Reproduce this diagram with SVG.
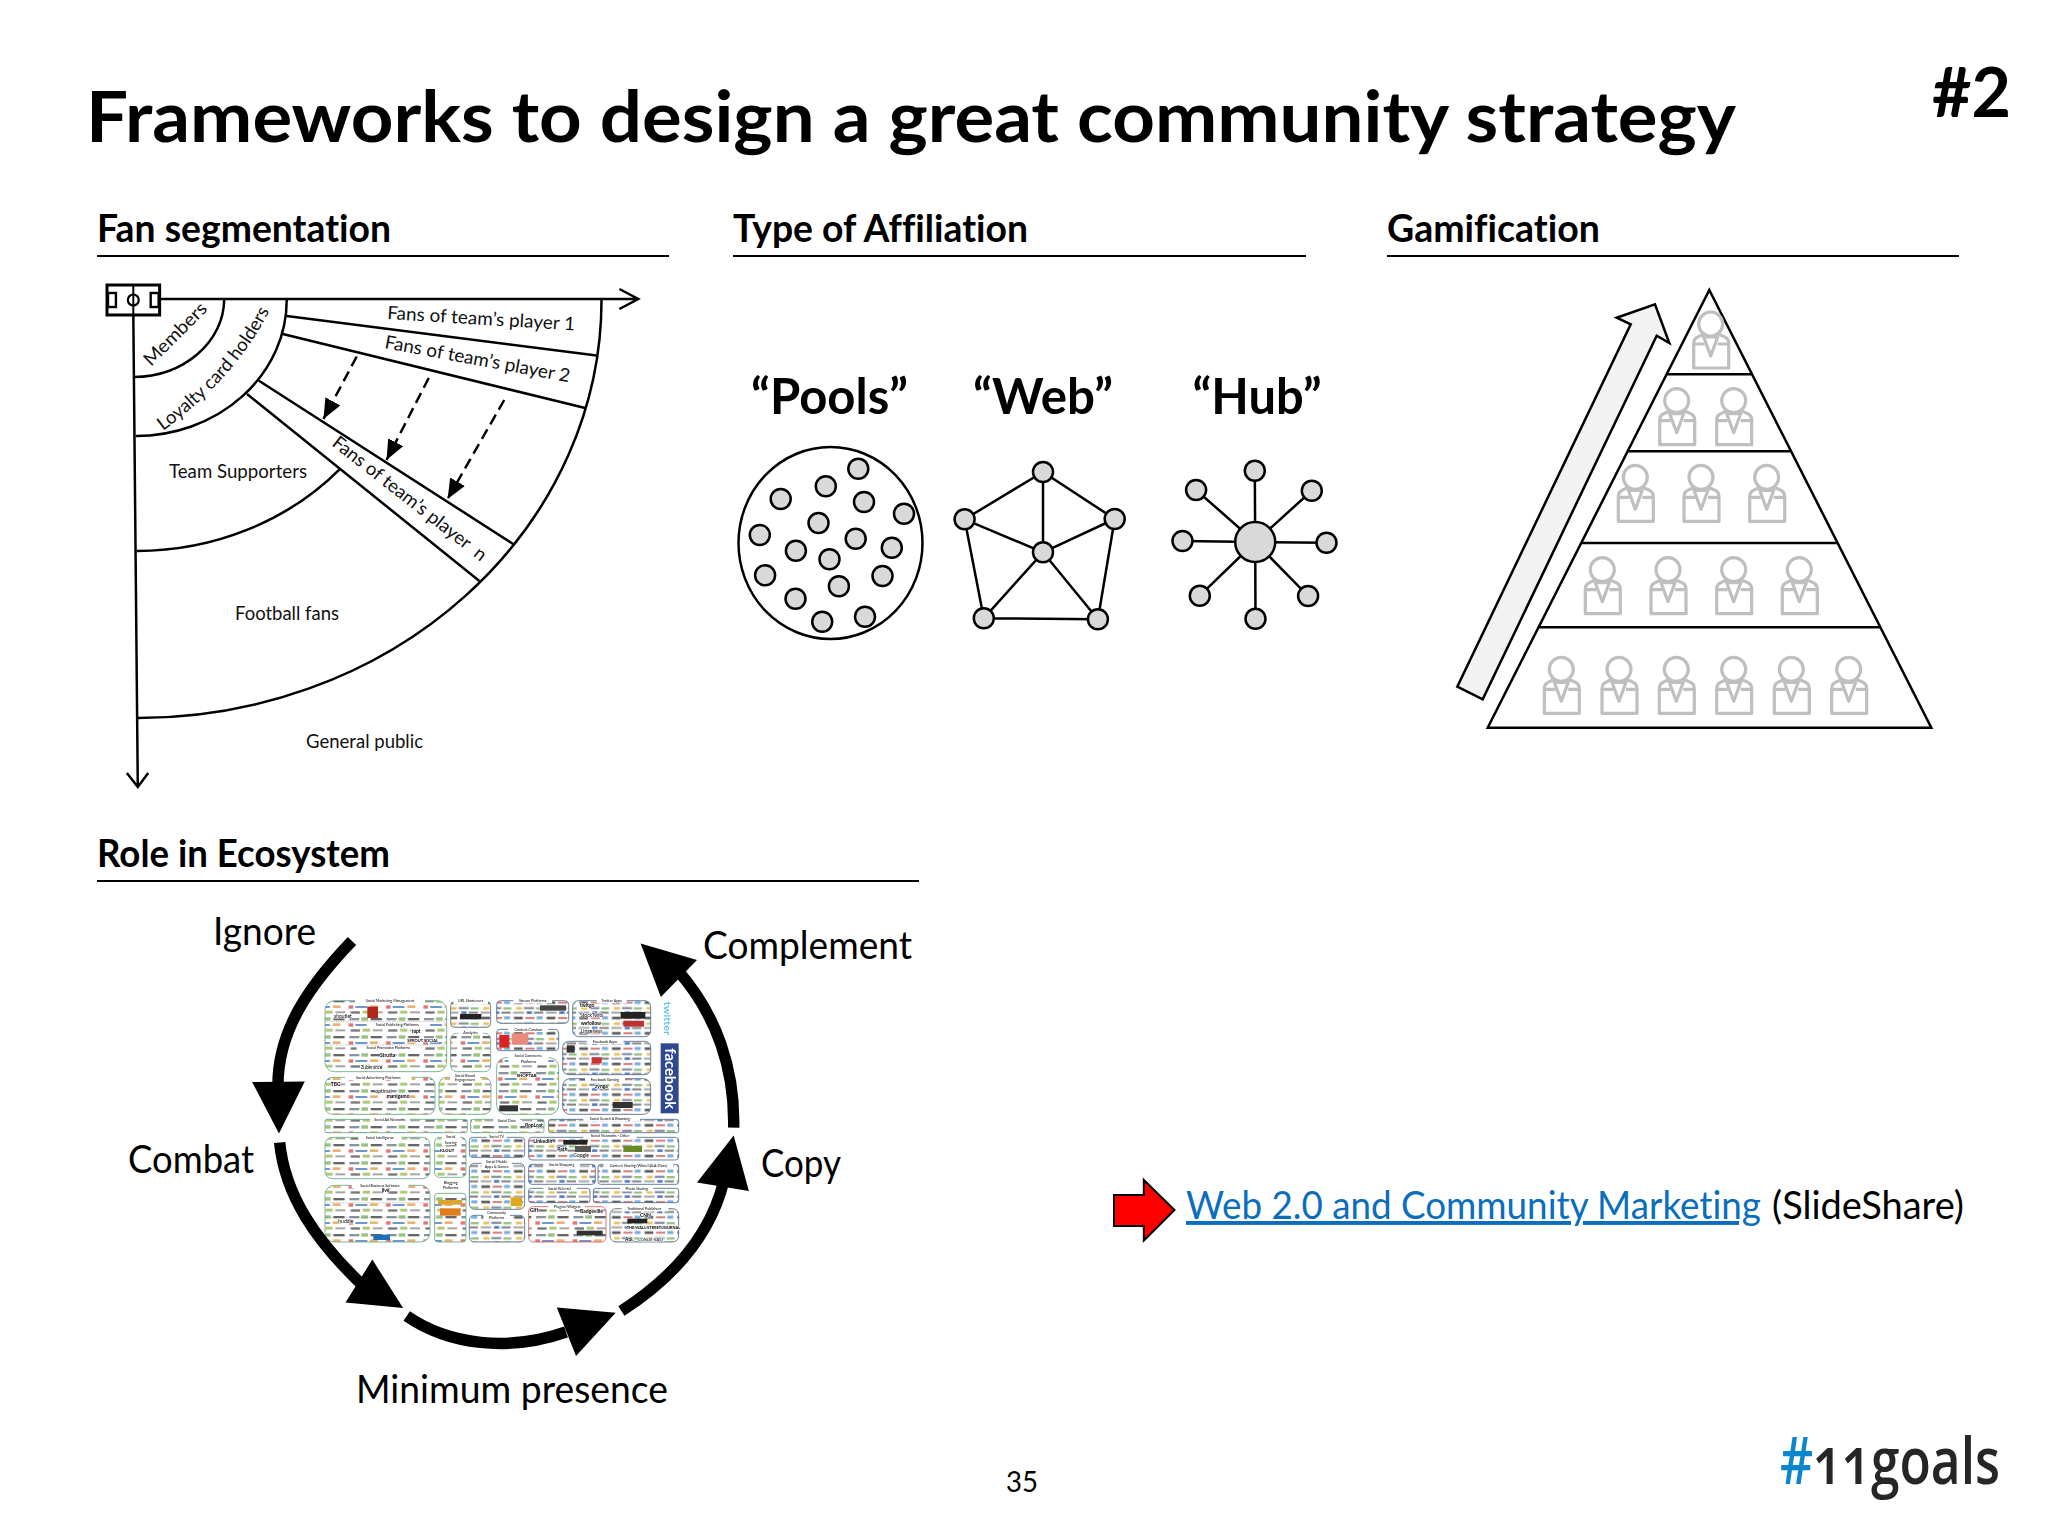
<svg xmlns="http://www.w3.org/2000/svg" width="2048" height="1536" viewBox="0 0 2048 1536">
<style>
text{font-family:"Lato","Carlito","Liberation Sans",sans-serif;fill:#000;font-variant-ligatures:none}
.h{font-weight:700;font-size:38px}
.q{font-weight:700;font-size:50px}
.s{font-size:18.500px;fill:#111}
.r{font-size:39px}
.l{fill:none;stroke:#000;stroke-width:2.5}
.ln{fill:none;stroke:#000;stroke-width:2.2}
.n{fill:#d9d9d9;stroke:#000;stroke-width:2.5}
.e{stroke:#000;stroke-width:2.5;fill:none}
.t{fill:none;stroke:#000;stroke-width:11.5}
.p{fill:none;stroke:#bfbfbf;stroke-width:3.2;stroke-linejoin:round}
.pg{fill:url(#logos);stroke:#6cab84;stroke-width:2.6}
.pb{fill:url(#logos2);stroke:#56708f;stroke-width:2.6}
.pr{fill:url(#logos);stroke:#d9605a;stroke-width:2.6}
.c{font-size:11px;fill:#556;font-family:"Liberation Sans",sans-serif;text-anchor:middle}
.k{font-family:"Liberation Sans",sans-serif;font-size:15px;fill:#333}
</style>
<defs>
<marker id="dh" markerUnits="userSpaceOnUse" markerWidth="22" markerHeight="22" refX="20" refY="10" orient="auto"><path d="M0 1.500L20 10L0 18.500z" fill="#000"/></marker>
<symbol id="person" overflow="visible" viewBox="-20 -14 40 60" width="40" height="60"><g class="p"><circle cx="0" cy="0" r="12"/><path d="M-7 10L-11 12Q-17 14-17 19V44H18V19Q18 14 12 12L7 10"/><path d="M-17 20H-6M7 20H18"/><path d="M-7 13H7L0 32Z"/></g></symbol>
<filter id="soft" x="-5%" y="-5%" width="110%" height="110%"><feGaussianBlur stdDeviation="1.800"/></filter>
<pattern id="logos" patternUnits="userSpaceOnUse" width="112" height="54">
<rect width="112" height="54" fill="#fff"/>
<rect x="6" y="6" width="30" height="7" fill="#8a93a0"/><rect x="42" y="4" width="20" height="10" fill="#6aa84f" opacity=".7"/><rect x="70" y="6" width="34" height="7" fill="#333" opacity=".75"/>
<rect x="4" y="22" width="14" height="10" fill="#d9534f" opacity=".8"/><rect x="24" y="24" width="36" height="6" fill="#4a7ebb" opacity=".8"/><rect x="68" y="22" width="24" height="8" fill="#e69138" opacity=".7"/>
<rect x="10" y="40" width="28" height="7" fill="#555" opacity=".8"/><rect x="46" y="38" width="22" height="9" fill="#9bbb59" opacity=".8"/><rect x="76" y="40" width="30" height="6" fill="#a6a6a6"/>
</pattern>
<pattern id="logos2" patternUnits="userSpaceOnUse" width="98" height="46" patternTransform="translate(20 13)">
<rect width="98" height="46" fill="#fff"/>
<rect x="4" y="5" width="26" height="8" fill="#333" opacity=".8"/><rect x="38" y="6" width="28" height="6" fill="#c0504d" opacity=".75"/><rect x="72" y="4" width="18" height="9" fill="#4a90d0" opacity=".75"/>
<rect x="10" y="22" width="18" height="8" fill="#e6b03a" opacity=".8"/><rect x="34" y="22" width="30" height="7" fill="#8a93a0"/><rect x="70" y="23" width="24" height="7" fill="#6aa84f" opacity=".7"/>
<rect x="2" y="36" width="32" height="6" fill="#a6a6a6"/><rect x="42" y="35" width="16" height="8" fill="#2a5ea8" opacity=".8"/><rect x="64" y="36" width="28" height="6" fill="#555" opacity=".75"/>
</pattern>
</defs>
<rect width="2048" height="1536" fill="#fff"/>

<g id="title">
<text x="86" y="142" font-size="71" font-weight="700" textLength="1650" lengthAdjust="spacingAndGlyphs">Frameworks to design a great community strategy</text>
<text x="1932" y="117" font-size="68" font-weight="700" textLength="79" lengthAdjust="spacingAndGlyphs">#2</text>
</g>

<g id="heading-fan"><text class="h" x="97" y="242" textLength="294" lengthAdjust="spacingAndGlyphs">Fan segmentation</text><line class="ln" x1="97" y1="256" x2="669" y2="256"/></g>
<g id="heading-type"><text class="h" x="733" y="242" textLength="295" lengthAdjust="spacingAndGlyphs">Type of Affiliation</text><line class="ln" x1="733" y1="256" x2="1306" y2="256"/></g>
<g id="heading-game"><text class="h" x="1387" y="242" textLength="213" lengthAdjust="spacingAndGlyphs">Gamification</text><line class="ln" x1="1387" y1="256" x2="1959" y2="256"/></g>
<g id="heading-role"><text class="h" x="97" y="867" textLength="293" lengthAdjust="spacingAndGlyphs">Role in Ecosystem</text><line class="ln" x1="97" y1="881" x2="919" y2="881"/></g>

<g id="fan-diagram">
<g transform="translate(107 0) scale(.993 1) translate(-107 0)">
<g id="field" class="l"><rect x="107" y="285" width="53" height="30" fill="#fff" stroke-width="3"/><rect x="108" y="293" width="8" height="14" stroke-width="2.400"/><rect x="151" y="293" width="8" height="14" stroke-width="2.400"/><circle cx="133.500" cy="300" r="5.500" stroke-width="2.200"/><line x1="133.500" y1="285" x2="133.500" y2="315" stroke-width="2"/></g>
<path class="l" d="M160 299H641M623 289L642 299L623 309M133.500 315L138 786M127 773L138 787L148.500 773"/>
<path class="l" d="M225 300A92 78 0 0 1 134 377"/>
<path class="l" d="M288 300A152 136 0 0 1 136 436"/>
<path class="l" d="M342 468.600A277 251 0 0 1 137 551"/>
<path class="l" d="M605 300A467 418 0 0 1 138 718"/>
<path class="l" d="M288 316L600 355.500M284 334L588.500 408M260 380.700L516 544M248 394L482 581"/>
<g stroke="#000" stroke-width="2.500" stroke-dasharray="11 6" fill="none">
<line x1="358.500" y1="356.500" x2="325" y2="419" marker-end="url(#dh)"/>
<line x1="431" y1="378" x2="388.500" y2="460" marker-end="url(#dh)"/>
<line x1="507" y1="400" x2="450" y2="499" marker-end="url(#dh)"/>
</g>
</g>
<text class="s" transform="translate(387 319) rotate(3.500)" textLength="188" lengthAdjust="spacingAndGlyphs">Fans of team’s player 1</text>
<text class="s" transform="translate(384 348) rotate(10.500)" textLength="188" lengthAdjust="spacingAndGlyphs">Fans of team’s player 2</text>
<text class="s" transform="translate(331 445) rotate(38)" textLength="190" lengthAdjust="spacingAndGlyphs" xml:space="preserve">Fans of team’s player  n</text>
<text class="s" transform="translate(151 367) rotate(-45)" textLength="81" lengthAdjust="spacingAndGlyphs">Members</text>
<path id="loyalty-path" d="M163 431C205 400 247 360 275 300" fill="none"/>
<text class="s"><textPath href="#loyalty-path">Loyalty card holders</textPath></text>
<text class="s" x="169" y="478" textLength="138" lengthAdjust="spacingAndGlyphs">Team Supporters</text>
<text class="s" x="235" y="620" textLength="104" lengthAdjust="spacingAndGlyphs">Football fans</text>
<text class="s" x="306" y="748" textLength="117" lengthAdjust="spacingAndGlyphs">General public</text>
</g>

<g id="pools">
<text class="q" x="751" y="414" textLength="157" lengthAdjust="spacingAndGlyphs">“Pools”</text>
<ellipse cx="830.500" cy="543" rx="92" ry="96" fill="none" stroke="#000" stroke-width="2.500"/>
<g class="n"><circle cx="858.300" cy="468.700" r="10"/><circle cx="825.800" cy="486.300" r="10"/><circle cx="780.700" cy="499" r="10"/><circle cx="864" cy="502" r="10"/><circle cx="904" cy="513.700" r="10"/><circle cx="818.500" cy="523" r="10"/><circle cx="759.800" cy="535" r="10"/><circle cx="855.700" cy="538.700" r="10"/><circle cx="795.900" cy="550.700" r="10"/><circle cx="891.800" cy="547.700" r="10"/><circle cx="829.500" cy="559.300" r="10"/><circle cx="765.100" cy="575.300" r="10"/><circle cx="882.500" cy="576" r="10"/><circle cx="838.900" cy="586.300" r="10"/><circle cx="795.500" cy="598.700" r="10"/><circle cx="865" cy="616.700" r="10"/><circle cx="822.200" cy="621.700" r="10"/></g>
</g>

<g id="web" transform="translate(-2 0)">
<text class="q" x="975" y="414" textLength="140" lengthAdjust="spacingAndGlyphs">“Web”</text>
<path class="e" d="M1045 472L966.600 519.300L1045 552.300L1116.700 519L1045 472V552.300M966.600 519.300L985.800 618.300L1045 552.300L1099.900 619.300L1116.700 519M985.800 618.300L1099.900 619.300"/>
<g class="n"><circle cx="1045" cy="472" r="10"/><circle cx="966.600" cy="519.300" r="10"/><circle cx="1116.700" cy="519" r="10"/><circle cx="1045" cy="552.300" r="10"/><circle cx="985.800" cy="618.300" r="10"/><circle cx="1099.900" cy="619.300" r="10"/></g>
</g>

<g id="hub" transform="translate(-3.500 0)">
<text class="q" x="1196" y="414" textLength="129" lengthAdjust="spacingAndGlyphs">“Hub”</text>
<path class="e" d="M1258.700 542L1258.300 470.700M1258.700 542L1199.600 490M1258.700 542L1315.300 490.700M1258.700 542L1186 541M1258.700 542L1330 542.700M1258.700 542L1203.300 595.700M1258.700 542L1311.600 596M1258.700 542L1259 618.700"/>
<g class="n"><circle cx="1258.700" cy="542" r="20"/><circle cx="1258.300" cy="470.700" r="10"/><circle cx="1199.600" cy="490" r="10"/><circle cx="1315.300" cy="490.700" r="10"/><circle cx="1186" cy="541" r="10"/><circle cx="1330" cy="542.700" r="10"/><circle cx="1203.300" cy="595.700" r="10"/><circle cx="1311.600" cy="596" r="10"/><circle cx="1259" cy="618.700" r="10"/></g>
</g>

<g id="pyramid">
<polygon points="1709.300,290 1487.700,727.700 1931.300,727.700" fill="#fff" stroke="#000" stroke-width="2.500"/>
<path class="l" d="M1667.300 374.300H1751M1628.300 451.300H1790M1581.700 543H1836.700M1539.300 627.300H1880"/>
<polygon points="1457.300,686.700 1482.700,699.300 1656.700,335.700 1669.300,343 1655,304.300 1616.700,317.700 1630.700,324.300" fill="#f2f2f2" stroke="#000" stroke-width="2.500"/>
<use href="#person" x="1690.700" y="310"/>
<use href="#person" x="1656.700" y="386.700"/><use href="#person" x="1713.700" y="386.700"/>
<use href="#person" x="1615.300" y="463.300"/><use href="#person" x="1681" y="463.300"/><use href="#person" x="1746.700" y="463.300"/>
<use href="#person" x="1582.300" y="555.700"/><use href="#person" x="1648" y="555.700"/><use href="#person" x="1713.700" y="555.700"/><use href="#person" x="1779.300" y="555.700"/>
<use href="#person" x="1541.300" y="655.300"/><use href="#person" x="1599" y="655.300"/><use href="#person" x="1656.300" y="655.300"/><use href="#person" x="1713.700" y="655.300"/><use href="#person" x="1771.300" y="655.300"/><use href="#person" x="1828.700" y="655.300"/>
</g>

<g id="landscape" transform="translate(310 980) scale(0.33333)" filter="url(#soft)">
<g class="pg"><rect x="45" y="62" width="365" height="213" rx="28"/><rect x="422" y="160" width="120" height="115" rx="18"/><rect x="560" y="233" width="186" height="170" rx="28"/><rect x="45" y="292" width="330" height="111" rx="22"/><rect x="387" y="292" width="156" height="111" rx="22"/><rect x="45" y="418" width="427" height="40" rx="6"/><rect x="482" y="418" width="220" height="40" rx="6"/><rect x="45" y="472" width="315" height="124" rx="22"/><rect x="374" y="472" width="94" height="120" rx="14"/><rect x="45" y="616" width="315" height="170" rx="28"/><rect x="374" y="640" width="94" height="146" rx="10"/></g>
<g class="pb"><rect x="422" y="65" width="120" height="77" rx="12"/><rect x="560" y="62" width="216" height="68" rx="12"/><rect x="788" y="62" width="234" height="108" rx="18"/><rect x="560" y="148" width="186" height="64" rx="10"/><rect x="758" y="184" width="264" height="100" rx="18"/><rect x="758" y="296" width="264" height="107" rx="22"/><rect x="716" y="418" width="390" height="40" rx="6"/><rect x="478" y="472" width="166" height="60" rx="10"/><rect x="656" y="472" width="450" height="68" rx="10"/><rect x="478" y="550" width="166" height="138" rx="16"/><rect x="656" y="553" width="200" height="60" rx="10"/><rect x="864" y="553" width="242" height="60" rx="8"/><rect x="656" y="625" width="184" height="43" rx="8"/><rect x="850" y="625" width="256" height="43" rx="8"/><rect x="478" y="706" width="166" height="80" rx="14"/><rect x="900" y="686" width="206" height="100" rx="18"/></g>
<rect class="pr" x="656" y="680" width="232" height="106" rx="14"/>
<path d="M50 125H405M50 195H405M50 668H355M50 712H355" stroke="#777" stroke-width="1.300" stroke-dasharray="4 3" fill="none"/>
<g fill="#fff"><rect x="135" y="56" width="210" height="14"/><rect x="430" y="59" width="104" height="14"/><rect x="610" y="56" width="116" height="14"/><rect x="860" y="56" width="90" height="14"/><rect x="170" y="128" width="190" height="14"/><rect x="445" y="152" width="74" height="14"/><rect x="595" y="142" width="120" height="14"/><rect x="830" y="178" width="110" height="14"/><rect x="140" y="198" width="190" height="14"/><rect x="595" y="221" width="120" height="32"/><rect x="105" y="286" width="200" height="14"/><rect x="420" y="280" width="90" height="28"/><rect x="825" y="290" width="120" height="14"/><rect x="180" y="412" width="120" height="14"/><rect x="550" y="412" width="80" height="14"/><rect x="820" y="410" width="170" height="14"/><rect x="145" y="466" width="130" height="14"/><rect x="395" y="464" width="55" height="32"/><rect x="530" y="464" width="60" height="14"/><rect x="820" y="464" width="160" height="14"/><rect x="515" y="538" width="90" height="32"/><rect x="700" y="549" width="110" height="14"/><rect x="880" y="550" width="210" height="14"/><rect x="125" y="610" width="170" height="14"/><rect x="390" y="602" width="65" height="30"/><rect x="700" y="620" width="100" height="14"/><rect x="930" y="620" width="100" height="14"/><rect x="520" y="692" width="80" height="30"/><rect x="715" y="675" width="110" height="14"/><rect x="935" y="680" width="140" height="14"/></g>
<g class="c">
<text x="240" y="67">Social Marketing Management</text><text x="482" y="67">URL Shorteners</text><text x="668" y="67">Stream Platforms</text><text x="905" y="67">Twitter Apps</text><text x="262" y="138">Social Publishing Platforms</text><text x="482" y="162">Analytics</text><text x="655" y="153">Content Curation</text><text x="885" y="190">Facebook Apps</text><text x="235" y="208">Social Promotion Platforms</text><text x="655" y="231">Social Commerce</text><text x="655" y="248">Platforms</text><text x="205" y="297">Social Advertising Platforms</text><text x="465" y="290">Social Brand</text><text x="465" y="303">Engagement</text><text x="885" y="302">Facebook Gaming</text><text x="240" y="423">Social Ad Networks</text><text x="590" y="425">Social Data</text><text x="900" y="421">Social Search &amp; Browsing</text><text x="210" y="477">Social Intelligence</text><text x="422" y="475">Social</text><text x="422" y="492">Scoring</text><text x="560" y="473">Social TV</text><text x="900" y="472">Social Networks - Other</text><text x="560" y="548">Social Mobile</text><text x="560" y="565">Apps &amp; Games</text><text x="755" y="559">Social Shopping</text><text x="985" y="560">Content Sharing (Wikis/Q&amp;A/Docs)</text><text x="210" y="620">Social Business Software</text><text x="422" y="612">Blogging</text><text x="422" y="628">Platforms</text><text x="748" y="630">Social Referral</text><text x="980" y="630">Photo Sharing</text><text x="560" y="702">Community</text><text x="560" y="718">Platforms</text><text x="772" y="684">Plugins/Widgets</text><text x="1003" y="690">Traditional Publishers</text>
</g>
<g>
<rect x="172" y="80" width="32" height="34" fill="#b4261f"/><rect x="450" y="102" width="64" height="16" fill="#222"/><rect x="690" y="76" width="78" height="16" fill="#444"/><rect x="568" y="165" width="30" height="38" fill="#d22"/><rect x="605" y="160" width="50" height="34" fill="#e98a7a"/><rect x="932" y="96" width="74" height="20" fill="#222"/><rect x="940" y="122" width="62" height="18" fill="#b33"/><rect x="770" y="196" width="24" height="22" fill="#333"/><rect x="908" y="366" width="60" height="18" fill="#333"/><rect x="940" y="498" width="56" height="18" fill="#6a8a22"/><rect x="760" y="480" width="72" height="14" fill="#222"/><rect x="795" y="498" width="48" height="18" fill="#555"/><rect x="390" y="685" width="62" height="22" fill="#e07b1e"/><rect x="384" y="660" width="72" height="14" fill="#d8a72c"/><rect x="602" y="652" width="34" height="26" fill="#e0a81c"/><rect x="190" y="764" width="50" height="16" fill="#1f6fb5"/><rect x="952" y="716" width="60" height="14" fill="#222"/><rect x="800" y="752" width="78" height="14" fill="#333"/><rect x="568" y="376" width="56" height="18" fill="#333"/><rect x="845" y="232" width="30" height="18" fill="#c33"/></g>
<g class="k" style="paint-order:stroke;stroke:#fff;stroke-width:3px">
<text x="72" y="113">shoutlet</text><text x="292" y="186" font-weight="700" font-size="12">SPROUT SOCIAL</text><text x="210" y="230" font-weight="700">Strutta</text><text x="152" y="267" font-size="14" fill="#365">Zuberance</text><text x="305" y="160" font-weight="700">rapt</text><text x="62" y="318" font-weight="700">TBG</text><text x="230" y="355" font-weight="700">manigamo</text><text x="196" y="338">optimal</text><text x="810" y="82" font-weight="700">twitgo</text><text x="810" y="112" fill="#b33">StockTwits</text><text x="812" y="135" font-weight="700" fill="#555">wefollow</text><text x="812" y="158" fill="#68a">Lingerless</text><text x="855" y="323" font-weight="700" fill="#a33">zynga</text><text x="670" y="490" font-weight="700" fill="#236">LinkedIn</text><text x="742" y="512" fill="#c33" font-weight="700">Path</text><text x="790" y="530" fill="#888">Google</text><text x="620" y="290" font-weight="700" font-size="13">SHOPTAB</text><text x="645" y="442" font-weight="700">PopLost</text><text x="990" y="710" fill="#c00" font-weight="700">CNN</text><text x="950" y="746" font-size="12" font-family="Liberation Serif" font-weight="700">THE WALL STREET JOURNAL</text><text x="945" y="782" font-weight="700">Aol.</text><text x="985" y="782" font-size="12" font-family="Liberation Serif">CONDÉ NAST</text><text x="390" y="517" font-weight="700" font-size="13" fill="#b44">KLOUT</text><text x="660" y="697" font-weight="700" fill="#247">Gift</text><text x="810" y="700" font-weight="700">Badgeville</text><text x="85" y="730" fill="#27a">huddle</text><text x="215" y="637" font-weight="700" fill="#333">jive</text>
</g>
<rect x="1052" y="190" width="54" height="210" fill="#2f4a8f"/>
<text transform="translate(1066 205) rotate(90)" font-family="Liberation Sans,sans-serif" font-weight="700" font-size="44" style="fill:#fff" textLength="182" lengthAdjust="spacingAndGlyphs">facebook</text>
<text transform="translate(1063 65) rotate(90)" font-family="Liberation Sans,sans-serif" font-weight="700" font-size="30" style="fill:#5cc8ea" textLength="100" lengthAdjust="spacingAndGlyphs">twitter</text>
</g>

<g id="connectors" transform="translate(270 0) scale(.9935 1) translate(-270 0)">
<path class="t" d="M352.500 941C310 985 278 1030 278 1085"/>
<polygon points="252,1082 305,1081.500 279,1133.600"/>
<path class="t" d="M279.700 1142.500C285 1195 315 1240 366 1288"/>
<polygon points="373,1259.600 346,1302.400 404,1308"/>
<path class="t" d="M407.600 1316C450 1345 510 1352 568 1332"/>
<polygon points="558.700,1307.500 578,1356 618,1312.700"/>
<path class="t" d="M623.700 1311C680 1275 715 1230 727 1180"/>
<polygon points="699.800,1182.500 752,1191 736.700,1135.600"/>
<path class="t" d="M736.700 1127.700C738 1070 720 1015 680 970"/>
<polygon points="663.400,997 699.800,960 643,943.500"/>
</g>
<g id="role-ignore"><text class="r" x="213" y="945" textLength="103" lengthAdjust="spacingAndGlyphs">Ignore</text></g>
<g id="role-complement"><text class="r" x="703" y="959" textLength="209" lengthAdjust="spacingAndGlyphs">Complement</text></g>
<g id="role-combat"><text class="r" x="128" y="1173" textLength="126" lengthAdjust="spacingAndGlyphs">Combat</text></g>
<g id="role-copy"><text class="r" x="761" y="1177" textLength="80" lengthAdjust="spacingAndGlyphs">Copy</text></g>
<g id="role-minimum"><text class="r" x="356" y="1403" textLength="312" lengthAdjust="spacingAndGlyphs">Minimum presence</text></g>

<g id="link">
<polygon points="1114,1195 1143.800,1195 1143.800,1180 1174.500,1210 1143.800,1240.700 1143.800,1226 1114,1226" fill="#f00" stroke="#000" stroke-width="2"/>
<text class="r" x="1186" y="1219" style="fill:#0a6ebd;text-decoration:underline" textLength="575" lengthAdjust="spacingAndGlyphs">Web 2.0 and Community Marketing</text>
<text class="r" x="1772" y="1219" textLength="192" lengthAdjust="spacingAndGlyphs">(SlideShare)</text>
</g>
<g id="page"><text x="1006" y="1492" font-size="28" textLength="32" lengthAdjust="spacingAndGlyphs">35</text></g>
<g id="logo"><text x="1780" y="1484" font-size="66" style="font-family:'Open Sans',sans-serif;font-variant-numeric:oldstyle-nums;fill:#262626" font-weight="600" textLength="220" lengthAdjust="spacingAndGlyphs"><tspan style="fill:#0a86cf">#</tspan>11goals</text></g>
</svg>
